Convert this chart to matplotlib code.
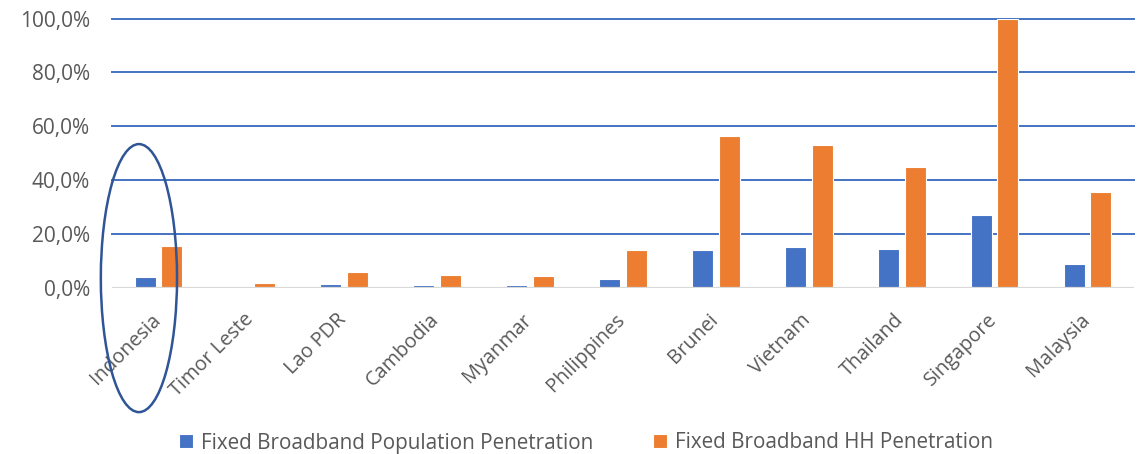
import matplotlib.pyplot as plt
import numpy as np
from matplotlib.patches import Ellipse

countries = ['Indonesia', 'Timor Leste', 'Lao PDR', 'Cambodia', 'Myanmar', 'Philippines',
             'Brunei', 'Vietnam', 'Thailand', 'Singapore', 'Malaysia']
pop_pen = [3.8, 0.3, 1.2, 0.9, 0.9, 3.0, 14.1, 15.0, 14.2, 27.0, 8.6]
hh_pen = [15.3, 1.7, 5.8, 4.6, 4.3, 14.1, 56.4, 52.9, 44.7, 100.0, 35.4]
yticks = [0, 20, 40, 60, 80, 100]

plt.rcParams['font.family'] = ['Open Sans', 'DejaVu Sans']
grey = '#595959'

fig = plt.figure(figsize=(11.38, 4.54), dpi=100)
ax = fig.add_axes([0.0984, 0.3667, 0.8981, 0.5921])

x = np.arange(len(countries))
w = 0.226
off = 0.143
ax.bar(x - off, pop_pen, w, color='#4472C4', edgecolor='white', linewidth=0.8,
       label='Fixed Broadband Population Penetration', zorder=3)
ax.bar(x + off, hh_pen, w, color='#ED7D31', edgecolor='white', linewidth=0.8,
       label='Fixed Broadband HH Penetration', zorder=3)

ax.set_xlim(-0.5, len(countries) - 0.5)
ax.set_ylim(0, 100)
ax.set_yticks(yticks)
ax.set_yticklabels([f'{v:.1f}%'.replace('.', ',') for v in yticks], fontsize=15, color=grey)
for v in yticks[1:]:
    ax.axhline(v, color='#4472C4', lw=1.4, zorder=1, clip_on=False)
ax.axhline(0, color='#D9D9D9', lw=1.6, zorder=4)

# rotated labels sit slightly left of the group centre
ax.set_xticks(x - 0.085)
ax.set_xticklabels(countries, rotation=45, ha='right', rotation_mode='anchor',
                   fontsize=14.3, color=grey)
ax.tick_params(axis='both', length=0)
ax.tick_params(axis='x', pad=16)
ax.tick_params(axis='y', pad=16)
for s in ax.spines.values():
    s.set_visible(False)

# ring around the first category
ell = Ellipse((-0.21, 3.5), width=0.82, height=99.7, fill=False,
              edgecolor='#2F5597', lw=1.8, clip_on=False, zorder=5)
ax.add_patch(ell)

fig.legend(loc='center', bbox_to_anchor=(0.515, 1 - 443 / 454), ncol=2, frameon=False,
           fontsize=14.9, labelcolor=grey, handlelength=0.65, handleheight=0.65,
           handletextpad=0.4, columnspacing=2.9)

fig.savefig('out.png', dpi=100)
